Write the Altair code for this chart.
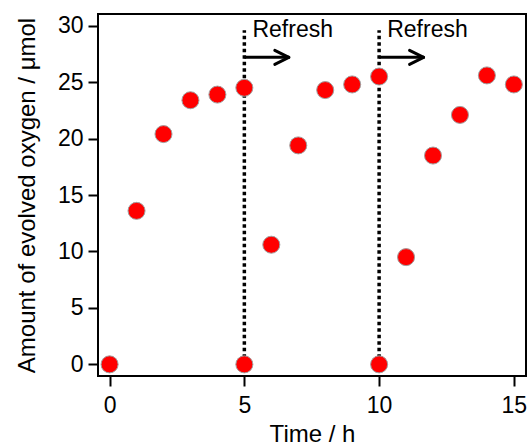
import altair as alt
import pandas as pd

# data
times = [0, 1, 2, 3, 4, 5, 5, 6, 7, 8, 9, 10, 10, 11, 12, 13, 14, 15]
oxygen = [0, 13.6, 20.4, 23.4, 23.9, 24.5, 0, 10.6, 19.4, 24.3, 24.8, 25.5, 0, 9.5, 18.5, 22.1, 25.6, 24.8]

refresh_times = [5, 10]
refresh_top = 29.6
refresh_label = "Refresh"
arrow_len = 1.65
arrow_y = 27.2
head_dx = 0.52
head_dy = 0.62
label_dx = 0.3
label_y = 29.0

x_ticks = [0, 5, 10, 15]
y_ticks = [0, 5, 10, 15, 20, 25, 30]
x_domain = [-0.43, 15.45]
y_domain = [-1.03, 31.04]

FONT = "Liberation Sans"

pts = pd.DataFrame({"t": times, "o": oxygen})
vlines = pd.DataFrame({"t": refresh_times, "y0": [0] * 2, "y1": [refresh_top] * 2})
shafts = pd.DataFrame({"t": refresh_times,
                       "t2": [r + arrow_len for r in refresh_times],
                       "y": [arrow_y] * 2})
heads = pd.DataFrame({
    "t": [r + arrow_len - head_dx for r in refresh_times] * 2,
    "t2": [r + arrow_len for r in refresh_times] * 2,
    "y": [arrow_y + head_dy] * 2 + [arrow_y - head_dy] * 2,
    "y2": [arrow_y] * 4,
})
labels = pd.DataFrame({"t": [r + label_dx for r in refresh_times],
                       "y": [label_y] * 2, "txt": [refresh_label] * 2})

xs = alt.Scale(domain=x_domain, nice=False, zero=False)
ys = alt.Scale(domain=y_domain, nice=False, zero=False)

xaxis = alt.Axis(values=x_ticks, title="Time / h", grid=False, domain=False,
                 tickSize=10, tickWidth=2, tickColor="black",
                 labelFont=FONT, labelFontSize=23, labelColor="black", labelPadding=8,
                 titleFont=FONT, titleFontSize=24, titleFontWeight="normal",
                 titleColor="black", titlePadding=5)
yaxis = alt.Axis(values=y_ticks, title="Amount of evolved oxygen / μmol", grid=False,
                 domain=False, tickSize=10, tickWidth=2, tickColor="black",
                 labelFont=FONT, labelFontSize=23, labelColor="black", labelPadding=5,
                 titleFont=FONT, titleFontSize=24, titleFontWeight="normal",
                 titleColor="black", titlePadding=18)

base = alt.Chart(pts)

points = base.mark_point(filled=True, size=290, fill="#ff0000", stroke="#a0a0a0",
                         strokeWidth=1, opacity=1).encode(
    x=alt.X("t:Q", scale=xs, axis=xaxis),
    y=alt.Y("o:Q", scale=ys, axis=yaxis),
)

dotted = alt.Chart(vlines).mark_rule(color="black", strokeWidth=3.5, strokeDash=[3.5, 3]).encode(
    x=alt.X("t:Q", scale=xs), y=alt.Y("y0:Q", scale=ys), y2="y1:Q")

shaft = alt.Chart(shafts).mark_rule(color="black", strokeWidth=3).encode(
    x=alt.X("t:Q", scale=xs), x2="t2:Q", y=alt.Y("y:Q", scale=ys))

head = alt.Chart(heads).mark_rule(color="black", strokeWidth=3, strokeCap="round").encode(
    x=alt.X("t:Q", scale=xs), x2="t2:Q", y=alt.Y("y:Q", scale=ys), y2="y2:Q")

text = alt.Chart(labels).mark_text(align="left", baseline="alphabetic", font=FONT,
                                   fontSize=23, color="black").encode(
    x=alt.X("t:Q", scale=xs), y=alt.Y("y:Q", scale=ys), text="txt:N")

chart = alt.layer(dotted, shaft, head, text, points).properties(
    width=428, height=362,
    background="white",
    autosize=alt.AutoSizeParams(type="none"),
    padding={"left": 98, "top": 14, "right": 3, "bottom": 69},
).configure_view(stroke="black", strokeWidth=2)

chart.save("out.html", embed_options={"renderer": "svg", "actions": False})
